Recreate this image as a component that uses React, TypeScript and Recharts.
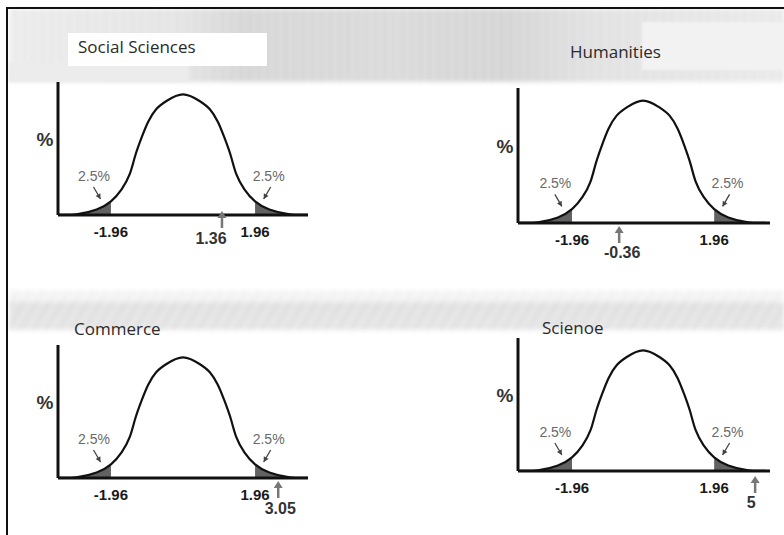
import React from 'react';
import { ComposedChart, Line, Area, XAxis, YAxis, ReferenceDot, ReferenceLine } from 'recharts';

// bell curve heights (same curve in all four panels)
const zValues = [-3.4, -2.9, -2.35, -1.96, -1.67, -1.45, -1.3, -1.13, -0.95, -0.73, -0.45, 0, 0.45, 0.73, 0.95, 1.13, 1.3, 1.45, 1.67, 1.96, 2.35, 2.9, 3.4];
const density = [0.0005, 0.002, 0.018, 0.045, 0.085, 0.135, 0.196, 0.255, 0.308, 0.35, 0.377, 0.399, 0.377, 0.35, 0.308, 0.255, 0.196, 0.135, 0.085, 0.045, 0.018, 0.002, 0.0005];

const criticalZ = [-1.96, 1.96];
const criticalLabels = ['-1.96', '1.96'];
const tailShare = ['2.5%', '2.5%'];
const tailNoteZ = [-2.42, 2.33];
const tailNoteY = 0.129;

const subjects = ['Social Sciences', 'Humanities', 'Commerce', 'Scienoe'];
const testStats = ['1.36', '-0.36', '3.05', '5'];
// where the arrows actually sit on each axis
const statArrowZ = [1.06, -0.66, 2.59, 3.09];

const rows = zValues.map((x, i) => ({
  x,
  y: density[i],
  left: x <= criticalZ[0] ? density[i] : null,
  right: x >= criticalZ[1] ? density[i] : null,
}));

const panels = [
  { box: { left: 18, top: 62, width: 312, height: 200 }, margin: { top: 20, right: 22, bottom: 47, left: 40 }, xDomain: [-3.4, 3.4], title: { left: 78, top: 36 }, stat: { dx: -11, dy: 23, tip: -4 } },
  { box: { left: 478, top: 68, width: 306, height: 202 }, margin: { top: 20, right: 14, bottom: 47, left: 40 }, xDomain: [-3.45, 3.5], title: { left: 570, top: 41 }, stat: { dx: 3, dy: 29, tip: 3 } },
  { box: { left: 18, top: 325, width: 312, height: 200 }, margin: { top: 20, right: 22, bottom: 47, left: 40 }, xDomain: [-3.4, 3.4], title: { left: 74, top: 318 }, stat: { dx: 2, dy: 30, tip: 3 } },
  { box: { left: 478, top: 318, width: 306, height: 200 }, margin: { top: 20, right: 14, bottom: 47, left: 40 }, xDomain: [-3.45, 3.5], title: { left: 542, top: 317 }, stat: { dx: -4, dy: 31, tip: 5 } },
];

const SANS = 'Liberation Sans, Arial, sans-serif';

function arrowHead(x1: number, y1: number, x2: number, y2: number, size: number) {
  const a = Math.atan2(y2 - y1, x2 - x1);
  const w = size * 0.55;
  const bx = x2 - size * Math.cos(a);
  const by = y2 - size * Math.sin(a);
  const px = -Math.sin(a) * w;
  const py = Math.cos(a) * w;
  return `${x2},${y2} ${bx + px},${by + py} ${bx - px},${by - py}`;
}

function TailNote({ cx, cy, text, side }: any) {
  const x1 = side === 'left' ? cx - 0.5 : cx + 2;
  const x2 = side === 'left' ? cx + 6.5 : cx - 5;
  const y1 = cy + 11;
  const y2 = cy + 23;
  return (
    <g>
      <text x={cx} y={cy} textAnchor="middle" dominantBaseline="central" fontFamily={SANS} fontSize={14} fill="#6a6a6a">
        {text}
      </text>
      <line x1={x1} y1={y1} x2={x2} y2={y2} stroke="#444" strokeWidth={1.3} />
      <polygon points={arrowHead(x1, y1, x2, y2, 5)} fill="#444" />
    </g>
  );
}

function CritLabel({ cx, cy, text }: any) {
  return (
    <text x={cx} y={cy + 16} textAnchor="middle" dominantBaseline="central" fontFamily={SANS} fontWeight="bold" fontSize={15} fill="#1a1a1a">
      {text}
    </text>
  );
}

function PercentLabel({ cx, cy }: any) {
  return (
    <text x={cx - 13} y={cy} textAnchor="middle" dominantBaseline="central" fontFamily={SANS} fontWeight="bold" fontSize={19} fill="#333">
      %
    </text>
  );
}

function StatMark({ cx, cy, text, dx, dy, tip }: any) {
  const top = cy + tip;
  return (
    <g>
      <line x1={cx} y1={top + 5} x2={cx} y2={top + 17} stroke="#777" strokeWidth={2.5} />
      <polygon points={`${cx},${top} ${cx - 4.5},${top + 7} ${cx + 4.5},${top + 7}`} fill="#777" />
      <text x={cx + dx} y={cy + dy} textAnchor="middle" dominantBaseline="central" fontFamily={SANS} fontWeight="bold" fontSize={16} fill="#333">
        {text}
      </text>
    </g>
  );
}

function Panel({ idx }: { idx: number }) {
  const p = panels[idx];
  return (
    <div style={{ position: 'absolute', left: p.box.left, top: p.box.top }}>
      <ComposedChart width={p.box.width} height={p.box.height} data={rows} margin={p.margin}>
        <XAxis type="number" dataKey="x" domain={p.xDomain} allowDataOverflow hide />
        <YAxis type="number" domain={[0, 0.44]} allowDataOverflow hide />
        <Area type="monotone" dataKey="left" stroke="none" fill="#5a5a5a" fillOpacity={0.95} isAnimationActive={false} />
        <Area type="monotone" dataKey="right" stroke="none" fill="#5a5a5a" fillOpacity={0.95} isAnimationActive={false} />
        <Line type="natural" dataKey="y" stroke="#111" strokeWidth={2.2} dot={false} activeDot={false} isAnimationActive={false} />
        <ReferenceLine y={0} stroke="#111" strokeWidth={3} />
        <ReferenceLine x={p.xDomain[0]} stroke="#111" strokeWidth={3} />
        <ReferenceDot x={p.xDomain[0]} y={0.25} r={0} ifOverflow="visible" shape={(s: any) => <PercentLabel {...s} />} />
        {criticalZ.map((z, i) => (
          <ReferenceDot key={'c' + i} x={z} y={0} r={0} ifOverflow="visible" shape={(s: any) => <CritLabel {...s} text={criticalLabels[i]} />} />
        ))}
        {tailNoteZ.map((z, i) => (
          <ReferenceDot key={'t' + i} x={z} y={tailNoteY} r={0} ifOverflow="visible" shape={(s: any) => <TailNote {...s} text={tailShare[i]} side={i === 0 ? 'left' : 'right'} />} />
        ))}
        <ReferenceDot x={statArrowZ[idx]} y={0} r={0} ifOverflow="visible" shape={(s: any) => <StatMark {...s} text={testStats[idx]} {...p.stat} />} />
      </ComposedChart>
    </div>
  );
}

function Title({ idx }: { idx: number }) {
  const t = panels[idx].title;
  return (
    <div style={{ position: 'absolute', left: t.left, top: t.top, fontFamily: '"Open Sans", sans-serif', fontSize: 17, lineHeight: '22px', color: '#2a2a2a', whiteSpace: 'nowrap' }}>
      {subjects[idx]}
    </div>
  );
}

export default function App() {
  return (
    <div style={{ position: 'fixed', left: 0, top: 0, width: 784, height: 535, background: '#fff', overflow: 'hidden' }}>
      {/* slide background bands */}
      <div style={{ position: 'absolute', left: 9, top: 9, width: 775, height: 73, filter: 'blur(2px)', background: 'repeating-linear-gradient(90deg, rgba(255,255,255,0.12) 0 4px, rgba(0,0,0,0.015) 4px 9px), linear-gradient(90deg, #eeeeee 0%, #e6e6e6 22%, #d8d8d8 30%, #dcdcdc 50%, #d6d6d6 64%, #e4e4e4 76%, #ececec 100%)' }} />
      <div style={{ position: 'absolute', left: 9, top: 62, width: 180, height: 20, background: '#ececec', filter: 'blur(1px)' }} />
      <div style={{ position: 'absolute', left: 68, top: 33, width: 199, height: 33, background: '#fff' }} />
      <div style={{ position: 'absolute', left: 642, top: 22, width: 142, height: 48, background: '#f2f2f2', filter: 'blur(1px)' }} />
      <div style={{ position: 'absolute', left: 9, top: 290, width: 775, height: 40, filter: 'blur(2px)', background: 'repeating-linear-gradient(120deg, rgba(255,255,255,0.15) 0 5px, rgba(0,0,0,0.012) 5px 11px), linear-gradient(180deg, #f7f7f7 0%, #f3f3f3 28%, #e2e2e2 34%, #e6e6e6 100%)' }} />

      {/* frame */}
      <div style={{ position: 'absolute', left: 8, top: 7, width: 776, height: 2, background: '#111' }} />
      <div style={{ position: 'absolute', left: 6, top: 7, width: 2, height: 528, background: '#111' }} />

      {subjects.map((_, i) => (
        <Title key={'title' + i} idx={i} />
      ))}
      {subjects.map((_, i) => (
        <Panel key={'panel' + i} idx={i} />
      ))}
    </div>
  );
}
